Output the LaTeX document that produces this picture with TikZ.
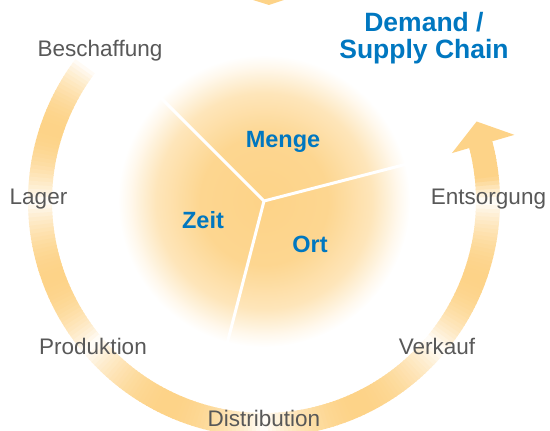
\documentclass[tikz,border=0pt]{standalone}
\usepackage{fontspec}
\setmainfont{Liberation Sans}
\usetikzlibrary{positioning,calc}
\definecolor{ringorange}{RGB}{253,211,136}
\definecolor{labelgray}{RGB}{88,88,88}
\definecolor{chainblue}{RGB}{0,119,192}
\pgfdeclareradialshading{diskshade}{\pgfpoint{0bp}{0bp}}{color(0bp)=(ringorange); color(11bp)=(ringorange!93!white); color(18.5bp)=(ringorange!58!white); color(23bp)=(ringorange!15!white); color(25bp)=(white); color(50bp)=(white)}
\tikzset{
    station/.style={text=labelgray,font=\fontsize{22.5}{27}\selectfont,anchor=base,inner sep=0pt},
    sector/.style={text=chainblue,font=\bfseries\fontsize{23.5}{28}\selectfont,anchor=base,inner sep=0pt},
    title/.style={text=chainblue,font=\bfseries\fontsize{26.5}{27}\selectfont,anchor=base,inner sep=0pt},
    ringpart/.style={line width=24pt},
    spoke/.style={white,line width=3pt},
}

\begin{document}
\begin{tikzpicture}[x=1pt,y=1pt]
\useasboundingbox (0,0) rectangle (550,431);
\coordinate (c) at (264,230);
% shaded disk and its three sectors
\shade[shading=diskshade] (c) circle[radius=146];
\coordinate (s1) at ([shift={(135:147)}]c);
\coordinate (s2) at ([shift={(14.5:147)}]c);
\coordinate (s3) at ([shift={(255.5:147)}]c);
\draw[spoke] (c) -- (s1);
\draw[spoke] (c) -- (s2);
\draw[spoke] (c) -- (s3);
% ring, fading out at each station
\foreach \a/\b in {143/180,180/220,220/270,270/320,320/360}{
    \pgfmathtruncatemacro\n{\b-\a}
    \foreach \i in {1,...,\n}{
        \pgfmathsetmacro\s{\a+\i-1}
        \pgfmathsetmacro\e{\a+\i+0.3}
        \pgfmathsetmacro\p{100*sin(180*(\i-0.5)/\n)^0.8}
        \draw[ringpart,draw=ringorange!\p!white] ([shift={(\s:224)}]c) arc[start angle=\s,end angle=\e,radius=224];
    }
}
\foreach \i in {1,...,16}{
    \pgfmathsetmacro\s{360+\i-1}
    \pgfmathsetmacro\e{360+\i+0.3}
    \pgfmathsetmacro\p{min(100,160*sin(90*(\i-0.5)/14))}
    \draw[ringpart,draw=ringorange!\p!white] ([shift={(\s:224)}]c) arc[start angle=\s,end angle=\e,radius=224];
}
\coordinate (h1) at ([shift={(14.3:194)}]c);
\coordinate (h2) at ([shift={(20.5:227)}]c);
\coordinate (h3) at ([shift={(14.8:259)}]c);
\fill[ringorange] (h1) -- (h2) -- (h3) -- cycle;
\coordinate (t1) at (253,431);
\coordinate (t2) at (269,426);
\coordinate (t3) at (284,431);
\fill[ringorange] (t1) -- (t2) -- (t3) -- cycle;
% stations
\node[station] (besch) at (100,374) {Beschaffung};
\node[station] (lager) at (38.5,226) {Lager};
\node[station] (prod) at (93,76) {Produktion};
\node[station] (dist) at (264,4) {Distribution};
\node[station] (verk) at (437,76) {Verkauf};
\node[station] (ents) at (488.5,226) {Entsorgung};
% sectors
\node[sector] (menge) at (283,283) {Menge};
\node[sector] (zeit) at (203,202) {Zeit};
\node[sector] (ort) at (310,178) {Ort};
% title
\node[title] (demand) at (424,399) {Demand /};
\node[title] (supply) at (424,372) {Supply Chain};
\end{tikzpicture}
\end{document}
